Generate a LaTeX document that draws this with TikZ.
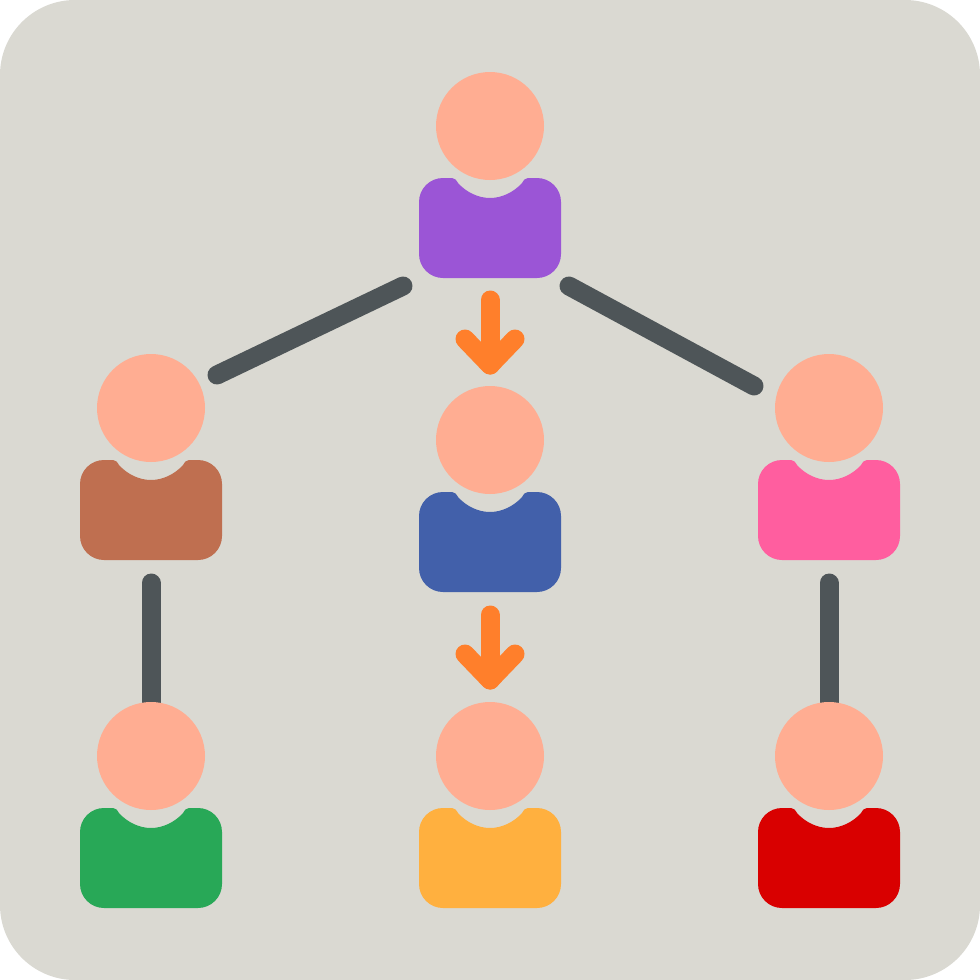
\documentclass[tikz,border=0pt]{standalone}
\definecolor{panel}{HTML}{DAD9D2}
\definecolor{skin}{HTML}{FFAD92}
\definecolor{linkgrey}{HTML}{4E5558}
\definecolor{arroworange}{HTML}{FF7F2B}
\definecolor{cpurple}{HTML}{9B55D6}
\definecolor{cbrown}{HTML}{BF6F50}
\definecolor{cblue}{HTML}{4260AA}
\definecolor{cpink}{HTML}{FF5E9F}
\definecolor{cgreen}{HTML}{28A857}
\definecolor{camber}{HTML}{FFB03F}
\definecolor{cred}{HTML}{D90000}
\tikzset{
  head/.style={circle,fill=skin,inner sep=0pt,minimum size=108mm},
  link/.style={draw=linkgrey,line width=19mm,line cap=round},
  flow/.style={draw=arroworange,line width=19mm,line cap=round,line join=round},
  person/.pic={
    \fill[pic actions] (-71,76) arc[start angle=180,end angle=270,radius=24]
      -- (-38,52) .. controls (-35,52) and (-34,54) .. (-32,57)
      .. controls (-24,66) and (-12,72) .. (0,72)
      .. controls (12,72) and (24,66) .. (32,57)
      .. controls (34,54) and (35,52) .. (38,52)
      -- (47,52) arc[start angle=270,end angle=360,radius=24]
      -- (71,128) arc[start angle=0,end angle=90,radius=24]
      -- (-47,152) arc[start angle=90,end angle=180,radius=24] -- cycle;
  }
}
\begin{document}
\begin{tikzpicture}[x=1mm,y=-1mm]
\useasboundingbox (0,0) rectangle (980,980);
\fill[panel] (0,0) [rounded corners=75mm] rectangle (980,980);
% bodies
\pic[fill=cpurple] at (490,126) {person};
\pic[fill=cbrown] at (151,408) {person};
\pic[fill=cblue] at (490,440) {person};
\pic[fill=cpink] at (829,408) {person};
\pic[fill=cgreen] at (151,756) {person};
\pic[fill=camber] at (490,756) {person};
\pic[fill=cred] at (829,756) {person};
% connector free ends
\coordinate (la1) at (403,286);
\coordinate (la2) at (217,375);
\coordinate (ra1) at (569,286);
\coordinate (ra2) at (754,386);
\coordinate (lv) at (151,583);
\coordinate (rv) at (829,583);
\coordinate (lvEnd) at (151,720);
\coordinate (rvEnd) at (829,720);
\coordinate (a1s) at (490,300);
\coordinate (a1t) at (490,365);
\coordinate (a1l) at (465,339);
\coordinate (a1r) at (515,339);
\coordinate (a2s) at (490,615);
\coordinate (a2t) at (490,680);
\coordinate (a2l) at (465,654);
\coordinate (a2r) at (515,654);
% links and arrows
\draw[link] (la1) -- (la2);
\draw[link] (ra1) -- (ra2);
\draw[link] (lv) -- (lvEnd);
\draw[link] (rv) -- (rvEnd);
\draw[flow] (a1s) -- (a1t);
\draw[flow] (a1l) -- (a1t) -- (a1r);
\draw[flow] (a2s) -- (a2t);
\draw[flow] (a2l) -- (a2t) -- (a2r);
% heads
\node[head] (h1) at (490,126) {};
\node[head] (h2) at (151,408) {};
\node[head] (h3) at (490,440) {};
\node[head] (h4) at (829,408) {};
\node[head] (h5) at (151,756) {};
\node[head] (h6) at (490,756) {};
\node[head] (h7) at (829,756) {};
\end{tikzpicture}
\end{document}
